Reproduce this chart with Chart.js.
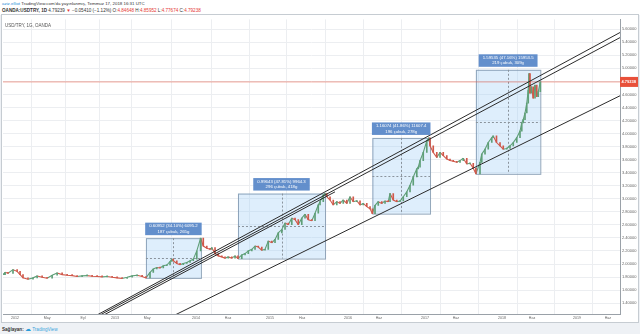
<!DOCTYPE html>
<html lang="tr">
<head>
<meta charset="UTF-8">
<title>USD/TRY, 1G, OANDA</title>
<script src="https://cdn.jsdelivr.net/npm/chart.js"></script>
<style>
  body { margin:0; width:640px; height:334px; background:#eef1f5; font-family:"Liberation Sans", Arial, sans-serif; position:relative; overflow:hidden; }
  #top { position:absolute; left:0; top:0; width:640px; height:15px; background:#fff; }
  .hl { position:absolute; left:2px; white-space:nowrap; color:#333; }
  #h1 { top:1px; font-size:4.4px; }
  #h2 { top:7.5px; font-size:4.6px; }
  #h1 .user { color:#2a8ad8; }
  .dn { color:#e53935; }
  #frame { position:absolute; left:2px; top:15px; width:636px; height:307px; background:#fff; box-shadow:0 0 0 1px #c6ccd2; }
  #foot { position:absolute; left:2px; top:325px; font-size:4.6px; color:#333; white-space:nowrap; }
  #foot .logo { color:#2a9bd8; font-size:6px; }
  #foot .tv { color:#3aa3dc; }
</style>
</head>
<body>
<div id="top">
  <div id="h1" class="hl"><span class="user">aziz.elliot</span> TradingView.com'da yayınlanmış, Temmuz 17, 2018 16:31 UTC</div>
  <div id="h2" class="hl"><b>OANDA:USDTRY, 1D</b> 4.79239 <span class="dn">▼</span> −0.05410 (−1.12%) O:<span class="dn">4.84648</span> H:<span class="dn">4.85952</span> L:<span class="dn">4.77674</span> C:<span class="dn">4.79238</span></div>
</div>
<div id="frame"><canvas id="c" width="636" height="307"></canvas></div>
<div id="foot"><b>Sağlayan:</b> <span class="logo">☁</span> <span class="tv">TradingView</span></div>

<script>
// daily bar index of each sampled candle and its close
const barIdx = [3,7,17,34,48,58,68,85,102,116,133,150,167,184,201,218,235,252,269,286,303,320,337,354,371,388,405,422,439,456,473,486,
  500,511,523,534,545,557,568,574,579,591,602,613,625,636,647,659,672,681,693,704,710,721,732,744,755,766,778,789,799,
  812,823,834,846,857,868,880,891,902,914,925,936,948,959,970,982,993,1004,1016,1027,1038,1050,1061,1072,1078,1089,1095,
  1101,1112,1123,1135,1146,1157,1169,1180,1191,1203,1214,1225,1237,1248,1256,
  1265,1276,1288,1299,1310,1316,1327,1339,1350,1361,1373,1384,1395,1407,1412,1418,1429,1441,1448,
  1452,1463,1475,1486,1497,1509,1520,1531,1543,1554,1565,1577,1588,1599,1608,
  1622,1628,1639,1650,1662,1667,1678,1690,1701,1713,1724,1735,1747,1758,1764,1769,1775,1781,1786,1789,1792,1797,1803,1809,1815,1820,1827];
const closes = [1.838,1.873,1.858,1.914,1.888,1.838,1.788,1.767,1.788,1.818,1.797,1.782,1.828,1.864,1.838,1.828,1.823,1.808,1.818,1.823,1.812,1.808,1.803,1.808,1.797,1.788,1.778,1.797,1.818,1.828,1.808,1.787,
  1.873,1.924,1.948,1.939,1.974,1.985,2.039,2.075,2.050,2.009,1.989,2.009,2.024,2.050,2.075,2.201,2.397,2.276,2.242,2.226,2.251,2.160,2.125,2.110,2.090,2.110,2.090,2.125,2.084,
  2.140,2.160,2.201,2.226,2.276,2.261,2.211,2.226,2.352,2.326,2.377,2.477,2.529,2.628,2.604,2.704,2.680,2.604,2.704,2.764,2.680,2.665,2.779,2.906,2.956,3.057,3.081,
  3.032,2.982,2.906,2.956,2.930,2.982,2.930,3.032,2.956,2.970,2.906,2.930,2.881,2.846,2.773,
  2.900,2.956,2.930,2.967,2.956,3.082,2.982,2.956,2.967,3.032,3.107,3.208,3.334,3.459,3.485,3.586,3.711,3.888,3.934,
  3.813,3.711,3.636,3.711,3.662,3.610,3.586,3.575,3.560,3.586,3.621,3.535,3.545,3.470,3.383,
  3.560,3.686,3.761,3.863,3.938,3.964,3.863,3.813,3.761,3.772,3.813,3.863,3.938,4.039,4.165,4.215,4.316,4.467,4.668,4.920,4.618,4.719,4.542,4.743,4.568,4.644,4.792];
const lastPrice = 4.79238;

// time axis labels and the bar index where each sits
const xTickPos = [41,150,272,381,490,656,765,908,1017,1173,1278,1435,1540,1697,1799,1952,2057];
const xTickLabels = ['2012','May','Eyl','2013','May','2014','Haz','2015','Haz','2016','Haz','2017','Haz','2018','Haz','2019','Haz'];
const yTicks = [1.4,1.6,1.8,2.0,2.2,2.4,2.6,2.8,3.0,3.2,3.4,3.6,3.8,4.0,4.2,4.4,4.6,4.8,5.0,5.2,5.4,5.6];

// price range measurements: start bar, bar count, days, change, percent
const boxStartBar = [486, 799, 1256, 1608];
const boxBars = [187, 296, 196, 219];
const boxDays = [265, 418, 278, 309];
const boxChange = [0.60952, 0.99643, 1.16074, 1.59535];
const boxPct = [34.10, 47.81, 41.86, 47.16];

// trend lines as [bar, price] end points
const lineA = [[320, 1.219], [2098, 5.550]];
const lineB = [[330, 1.219], [2098, 5.472]];
const lineC = [[343, 1.219], [1129, 3.107]];
const lineLow = [[585, 1.219], [2098, 4.580]];

const X_MIN = 0, X_MAX = 2098, Y_MIN = 1.234, Y_MAX = 5.751;
const UP = '#5f9f78', DOWN = '#d0584a';
const FONT = '"Liberation Sans", Arial, sans-serif';

const candles = barIdx.map((b, i) => {
  const open = i === 0 ? closes[0] : closes[i - 1];
  return { x: b, y: [open, closes[i]] };
});
const candleColors = closes.map((c, i) => (i > 0 && c < closes[i - 1]) ? DOWN : UP);
const closePts = barIdx.map((b, i) => ({ x: b, y: closes[i] }));

const toPts = seg => seg.map(p => ({ x: p[0], y: p[1] }));
const lineSet = seg => ({
  type: 'line', data: toPts(seg), borderColor: '#2b2b2b', borderWidth: 1,
  pointRadius: 0, tension: 0, clip: 0, order: 1
});

const overlay = {
  id: 'overlay',
  beforeDatasetsDraw(chart) {
    const { ctx, chartArea: a, scales: { x, y } } = chart;
    ctx.save();
    ctx.beginPath();
    ctx.rect(a.left, a.top, a.right - a.left, a.bottom - a.top);
    ctx.clip();
    boxStartBar.forEach((sb, i) => {
      const start = boxChange[i] / (boxPct[i] / 100);
      const end = start + boxChange[i];
      const x0 = x.getPixelForValue(sb), x1 = x.getPixelForValue(sb + boxBars[i]);
      const y0 = y.getPixelForValue(end), y1 = y.getPixelForValue(start);
      ctx.fillStyle = 'rgba(160,205,245,0.35)';
      ctx.fillRect(x0, y0, x1 - x0, y1 - y0);
      ctx.strokeStyle = 'rgba(120,145,170,0.8)';
      ctx.lineWidth = 1;
      ctx.strokeRect(x0 + 0.5, y0 + 0.5, x1 - x0, y1 - y0);
      ctx.setLineDash([2, 2]);
      ctx.strokeStyle = '#8a939c';
      const xm = Math.round((x0 + x1) / 2) + 0.5;
      const ym = Math.round(y.getPixelForValue(start + boxChange[i] / 2)) + 0.5;
      ctx.beginPath();
      ctx.moveTo(xm, y0); ctx.lineTo(xm, y1);
      ctx.moveTo(x0, ym); ctx.lineTo(x1, ym);
      ctx.stroke();
      ctx.setLineDash([]);
    });
    ctx.restore();
  },
  afterDatasetsDraw(chart) {
    const { ctx, chartArea: a, scales: { x, y } } = chart;
    ctx.save();
    // measurement labels
    ctx.font = '4.3px ' + FONT;
    ctx.textAlign = 'center';
    ctx.textBaseline = 'middle';
    boxStartBar.forEach((sb, i) => {
      const start = boxChange[i] / (boxPct[i] / 100);
      const end = start + boxChange[i];
      const x0 = x.getPixelForValue(sb), x1 = x.getPixelForValue(sb + boxBars[i]);
      const y0 = y.getPixelForValue(end);
      const l1 = boxChange[i].toFixed(5) + ' (' + boxPct[i].toFixed(2) + '%) ' + (boxChange[i] * 10000).toFixed(1);
      const l2 = boxBars[i] + ' çubuk, ' + boxDays[i] + 'g';
      const w = Math.max(ctx.measureText(l1).width, ctx.measureText(l2).width) + 8;
      const cx = (x0 + x1) / 2;
      const h = 12.5;
      const top = y0 - 3 - h;
      ctx.fillStyle = 'rgba(86,134,200,0.92)';
      ctx.fillRect(cx - w / 2, top, w, h);
      ctx.fillStyle = '#fff';
      ctx.fillText(l1, cx, top + 3.6);
      ctx.fillText(l2, cx, top + 9);
    });
    // symbol caption
    ctx.textAlign = 'left';
    ctx.fillStyle = '#555';
    ctx.font = '4.5px ' + FONT;
    ctx.fillText('USD/TRY, 1G, OANDA', a.left + 2, a.top + 6);
    // last price tag on the axis
    const py = y.getPixelForValue(lastPrice);
    ctx.fillStyle = '#e8503a';
    ctx.fillRect(a.right, py - 5, chart.width - a.right, 10);
    ctx.fillStyle = '#fff';
    ctx.font = 'bold 4px ' + FONT;
    ctx.fillText(lastPrice.toFixed(5), a.right + 1.5, py + 0.3);
    ctx.restore();
  }
};

new Chart(document.getElementById('c'), {
  type: 'bar',
  data: {
    datasets: [
      {
        type: 'line',
        data: [{ x: X_MIN, y: lastPrice }, { x: X_MAX, y: lastPrice }],
        borderColor: 'rgba(232,90,70,0.55)', borderWidth: 1, pointRadius: 0, order: 4
      },
      {
        // close path, coloured by direction
        type: 'line', data: closePts, borderWidth: 1.1, pointRadius: 0, tension: 0, order: 3,
        segment: { borderColor: c => c.p1.parsed.y < c.p0.parsed.y ? DOWN : UP }
      },
      {
        data: candles, backgroundColor: candleColors, borderWidth: 0,
        barThickness: 1, minBarLength: 1, order: 2
      },
      lineSet(lineA), lineSet(lineB), lineSet(lineC), lineSet(lineLow)
    ]
  },
  options: {
    responsive: false,
    animation: false,
    devicePixelRatio: 1,
    layout: { padding: { left: 1, right: 0, top: 0, bottom: 0 } },
    plugins: { legend: { display: false }, tooltip: { enabled: false } },
    scales: {
      x: {
        type: 'linear', min: X_MIN, max: X_MAX, offset: false,
        afterBuildTicks: s => { s.ticks = xTickPos.map(v => ({ value: v })); },
        afterFit: s => { s.height = 8; },
        ticks: {
          autoSkip: false, maxRotation: 0, padding: 1.5, color: '#666',
          font: { size: 3.6, family: FONT },
          callback: (v, i) => xTickLabels[i]
        },
        grid: { color: '#eceef1', drawTicks: false },
        border: { display: true, color: '#9aa1a8' }
      },
      y: {
        position: 'right', min: Y_MIN, max: Y_MAX,
        afterBuildTicks: s => { s.ticks = yTicks.map(v => ({ value: v })); },
        afterFit: s => { s.width = 18; },
        ticks: {
          padding: 2, color: '#666',
          font: { size: 4, family: FONT },
          callback: v => Number(v).toFixed(5)
        },
        grid: { color: '#eceef1', drawTicks: false },
        border: { display: true, color: '#9aa1a8' }
      }
    }
  },
  plugins: [overlay]
});
</script>
</body>
</html>
